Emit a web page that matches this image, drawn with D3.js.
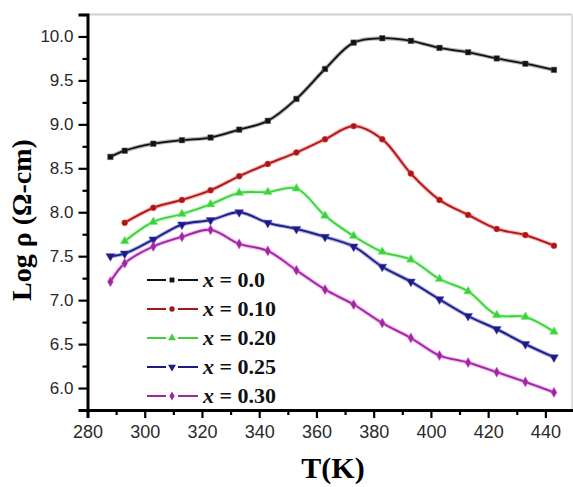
<!DOCTYPE html>
<html><head><meta charset="utf-8">
<script src="https://cdn.jsdelivr.net/npm/d3@7"></script>
<style>body{margin:0;background:#fff}svg{display:block}</style>
</head><body>
<script>
const tempsLong = [288,293,303,313,323,333,343,353,363,373,383,393,403,413,423,433,443];
const tempsShort = [293,303,313,323,333,343,353,363,373,383,393,403,413,423,433,443];
const rhoX000 = [8.63,8.70,8.78,8.82,8.85,8.94,9.04,9.29,9.63,9.93,9.98,9.95,9.87,9.82,9.75,9.69,9.62];
const rhoX010 = [7.88,8.05,8.14,8.25,8.41,8.55,8.68,8.83,8.98,8.83,8.44,8.14,7.97,7.81,7.74,7.62];
const rhoX020 = [7.67,7.89,7.98,8.09,8.22,8.23,8.27,7.96,7.73,7.55,7.46,7.24,7.10,6.83,6.81,6.64];
const rhoX025 = [7.50,7.53,7.69,7.86,7.91,8.00,7.88,7.81,7.72,7.61,7.38,7.21,7.01,6.82,6.67,6.50,6.35];
const rhoX030 = [7.21,7.42,7.61,7.72,7.80,7.64,7.56,7.34,7.12,6.95,6.74,6.57,6.37,6.29,6.18,6.07,5.95];
const seriesLabels = ["0.0","0.10","0.20","0.25","0.30"];
const xTicks = [280,300,320,340,360,380,400,420,440];
const xMinor = [290,310,330,350,370,390,410,430,450];
const yTicks = [6.0,6.5,7.0,7.5,8.0,8.5,9.0,9.5,10.0];
const yMinor = [5.75,6.25,6.75,7.25,7.75,8.25,8.75,9.25,9.75,10.25];

const W = 573, H = 487;
const svg = d3.select("body").append("svg").attr("width", W).attr("height", H);
const x = d3.scaleLinear().domain([280,450]).range([87.5,574]);
const y = d3.scaleLinear().domain([5.75,10.25]).range([410,14.5]);

const styles = [
  {core:"#111111", halo:"#555555", sym:d3.symbolSquare, size:30},
  {core:"#a31818", halo:"#ff3b3b", sym:d3.symbolCircle, size:28},
  {core:"#3fcf3f", halo:"#7cf57c", sym:d3.symbolTriangle, size:34},
  {core:"#1c1c80", halo:"#4646c8", sym:d3.symbolTriangle, size:34, rot:180},
  {core:"#9a2a9a", halo:"#ee55ee", sym:d3.symbolDiamond, size:30}
];
const series = [
  {t:tempsLong, v:rhoX000},
  {t:tempsShort, v:rhoX010},
  {t:tempsShort, v:rhoX020},
  {t:tempsLong, v:rhoX025},
  {t:tempsLong, v:rhoX030}
];

// frame (top/right) light grey
svg.append("line").attr("x1",x(280)).attr("x2",572).attr("y1",y(10.25)).attr("y2",y(10.25)).attr("stroke","#cfcfcf").attr("stroke-width",2);
svg.append("line").attr("x1",572).attr("x2",572).attr("y1",y(10.25)).attr("y2",y(5.75)).attr("stroke","#e0e0e0").attr("stroke-width",2);

const line = d3.line().curve(d3.curveCatmullRom.alpha(0.5));
series.forEach((s,i)=>{
  const pts = s.t.map((t,j)=>[x(t), y(s.v[j])]);
  const st = styles[i];
  svg.append("path").attr("d", line(pts)).attr("fill","none").attr("stroke",st.halo).attr("stroke-opacity",0.45).attr("stroke-width",4);
  svg.append("path").attr("d", line(pts)).attr("fill","none").attr("stroke",st.core).attr("stroke-width",1.8);
  svg.append("g").selectAll("path").data(pts).join("path")
    .attr("d", d3.symbol().type(st.sym).size(st.size))
    .attr("transform", d=>`translate(${d[0]},${d[1]})${st.rot?` rotate(${st.rot})`:""}`)
    .attr("fill", st.core).attr("stroke", st.halo).attr("stroke-opacity",0.5).attr("stroke-width",1);
});

// axes
const gx = svg.append("g").attr("transform",`translate(0,${y(5.75)})`);
gx.call(d3.axisBottom(x).tickValues(xTicks).tickSize(8).tickPadding(7).tickFormat(d3.format("d")));
const gxm = svg.append("g").attr("transform",`translate(0,${y(5.75)})`);
gxm.call(d3.axisBottom(x).tickValues(xMinor).tickSize(5).tickFormat(""));
gxm.select(".domain").remove();
const gy = svg.append("g").attr("transform",`translate(${x(280)},0)`);
gy.call(d3.axisLeft(y).tickValues(yTicks).tickSize(9).tickPadding(5).tickFormat(d3.format(".1f")));
const gym = svg.append("g").attr("transform",`translate(${x(280)},0)`);
gym.call(d3.axisLeft(y).tickValues(yMinor).tickSize(5).tickFormat(""));
gym.select(".domain").remove();
[gx,gy].forEach(g=>{
  g.select(".domain").attr("stroke","#000").attr("stroke-width",3);
  g.selectAll(".tick text").attr("font-family","Liberation Sans, Arial, sans-serif").attr("font-size",17).attr("fill","#2a2a2a");
});
gx.selectAll(".tick text").attr("font-size",18);
[gx,gy,gxm,gym].forEach(g=>g.selectAll(".tick line").attr("stroke","#000").attr("stroke-width",2.2));

// axis titles
svg.append("text").attr("x",333).attr("y",478).attr("text-anchor","middle")
  .attr("font-family","Liberation Serif, Times New Roman, serif").attr("font-weight","bold").attr("font-size",30).text("T(K)");
svg.append("text").attr("transform","translate(31,220) rotate(-90)").attr("text-anchor","middle")
  .attr("font-family","Liberation Serif, Times New Roman, serif").attr("font-weight","bold").attr("font-size",28).text("Log ρ (Ω-cm)");

// legend
const lg = svg.append("g");
seriesLabels.forEach((lab,i)=>{
  const yy = 280 + i*29, st = styles[i];
  lg.append("line").attr("x1",147).attr("x2",166).attr("y1",yy).attr("y2",yy).attr("stroke",st.core).attr("stroke-width",2);
  lg.append("line").attr("x1",178).attr("x2",198).attr("y1",yy).attr("y2",yy).attr("stroke",st.core).attr("stroke-width",2);
  lg.append("path").attr("d", d3.symbol().type(st.sym).size(st.size*0.8))
    .attr("transform",`translate(172,${yy})${st.rot?` rotate(${st.rot})`:""}`).attr("fill",st.core);
  const t = lg.append("text").attr("x",203).attr("y",yy+7)
    .attr("font-family","Liberation Serif, Times New Roman, serif").attr("font-weight","bold").attr("font-size",22).attr("fill","#111");
  t.append("tspan").attr("font-style","italic").text("x");
  t.append("tspan").text(" = " + lab);
});
</script>
</body></html>
